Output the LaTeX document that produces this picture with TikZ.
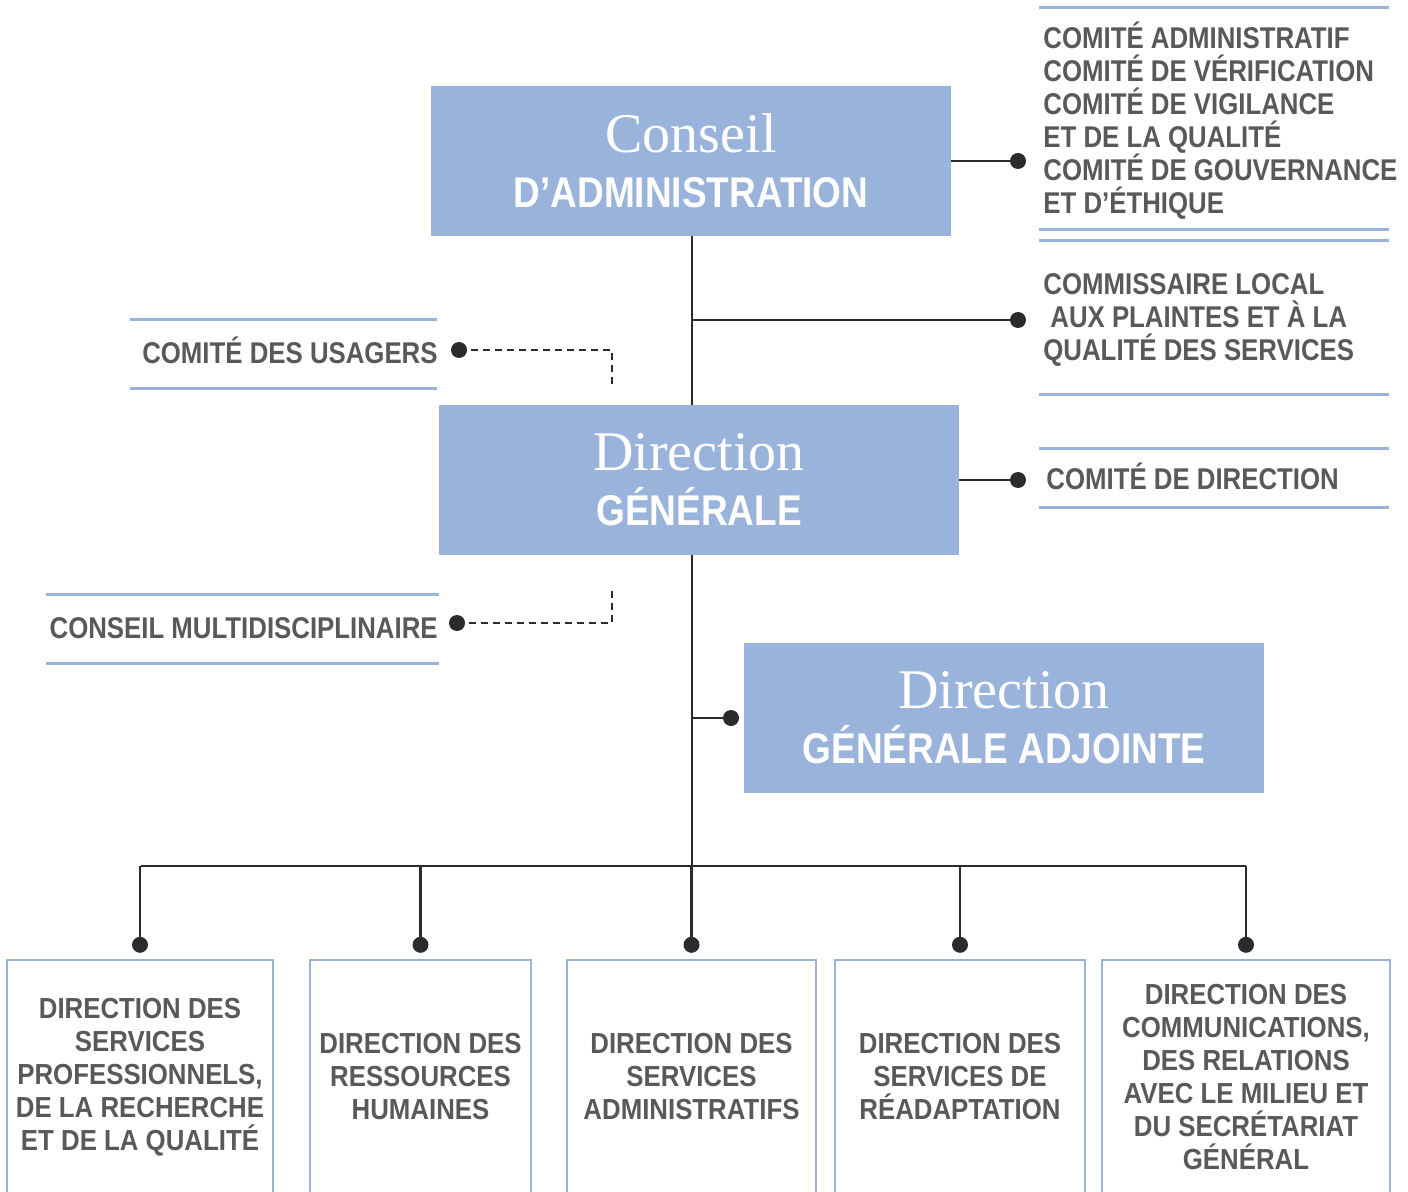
\documentclass[tikz,border=0pt]{standalone}
\usepackage{fontspec}
\setmainfont{Liberation Sans}
\newfontfamily\condfont{Liberation Sans}[FakeStretch=0.86]
\newfontfamily\unitfont{Liberation Sans}[FakeStretch=0.89]
\newfontfamily\headfont{Liberation Sans}[FakeStretch=0.86]
\newfontfamily\handfont{Liberation Serif}
\usetikzlibrary{positioning}

\definecolor{boxblue}{HTML}{9AB3DA}
\definecolor{txtgray}{HTML}{58595B}
\definecolor{linkgray}{HTML}{2B2B2B}

\newcommand{\hand}[1]{{\handfont\fontsize{28}{27.5}\selectfont #1}}
\newcommand{\headbf}[1]{{\headfont\bfseries\fontsize{21.5}{27.5}\selectfont #1}}

\tikzset{
  headbox/.style={fill=boxblue, text=white, minimum width=260pt, minimum height=75pt,
    inner sep=0pt, align=center, font=\fontsize{21.5}{27.5}\selectfont},
  unitbox/.style={draw=boxblue, line width=1.2pt, minimum height=117pt, inner sep=0pt,
    align=center, text=txtgray, font=\unitfont\bfseries\fontsize{14.5}{16.5}\selectfont},
  sidetext/.style={text=txtgray, inner sep=0pt, align=left,
    font=\condfont\bfseries\fontsize{15}{16.5}\selectfont},
  rule/.style={draw=boxblue, line width=1.5pt},
  link/.style={draw=linkgray, line width=1.2pt},
  dashlink/.style={draw=linkgray, line width=1pt, dash pattern=on 3.5pt off 2.5pt},
  dot/.style={fill=linkgray}
}

\begin{document}
\begin{tikzpicture}[x=0.5pt, y=-0.5pt]
  \useasboundingbox (0,0) rectangle (1408,1192);

  % Main boxes
  \node[headbox] (ca) at (691,161) {\hand{Conseil}\\\headbf{D’ADMINISTRATION}};
  \node[headbox] (dg) at (699,480) {\hand{Direction}\\\headbf{GÉNÉRALE}};
  \node[headbox] (dga) at (1004,718) {\hand{Direction}\\\headbf{GÉNÉRALE ADJOINTE}};

  % Side committees
  \node[sidetext, anchor=north west] (comites) at (1043,22)
    {COMITÉ ADMINISTRATIF\\COMITÉ DE VÉRIFICATION\\COMITÉ DE VIGILANCE\\ET DE LA QUALITÉ\\COMITÉ DE GOUVERNANCE\\ET D’ÉTHIQUE};
  \node[sidetext, anchor=north west] (plaintes) at (1043,273)
    {COMMISSAIRE LOCAL\\\hspace{3.5pt}AUX PLAINTES ET À LA\\QUALITÉ DES SERVICES};
  \node[sidetext, anchor=base west] (cdir) at (1046,489) {COMITÉ DE DIRECTION};
  \node[sidetext, anchor=base east] (usagers) at (438,364) {COMITÉ DES USAGERS};
  \node[sidetext, anchor=base east] (cmulti) at (438,638) {CONSEIL MULTIDISCIPLINAIRE};

  % Rules
  \draw[rule] (1039,8) -- (1389,8);
  \draw[rule] (1039,230) -- (1389,230);
  \draw[rule] (1039,241) -- (1389,241);
  \draw[rule] (1039,395) -- (1389,395);
  \draw[rule] (1039,449) -- (1389,449);
  \draw[rule] (1039,507) -- (1389,507);
  \draw[rule] (130,320) -- (437,320);
  \draw[rule] (130,389) -- (437,389);
  \draw[rule] (46,594) -- (439,594);
  \draw[rule] (46,663) -- (439,663);

  % Directions
  \node[unitbox, minimum width=133pt] (b1) at (140,1077)
    {DIRECTION DES\\SERVICES\\PROFESSIONNELS,\\DE LA RECHERCHE\\ET DE LA QUALITÉ};
  \node[unitbox, minimum width=110.5pt] (b2) at (420.5,1077)
    {DIRECTION DES\\RESSOURCES\\HUMAINES};
  \node[unitbox, minimum width=124.5pt] (b3) at (691.5,1077)
    {DIRECTION DES\\SERVICES\\ADMINISTRATIFS};
  \node[unitbox, minimum width=125pt] (b4) at (960,1077)
    {DIRECTION DES\\SERVICES DE\\RÉADAPTATION};
  \node[unitbox, minimum width=144pt] (b5) at (1246,1077)
    {DIRECTION DES\\COMMUNICATIONS,\\DES RELATIONS\\AVEC LE MILIEU ET\\DU SECRÉTARIAT\\GÉNÉRAL};

  % Dots
  \coordinate (dcom) at (1018,161);
  \coordinate (dpla) at (1018,320);
  \coordinate (ddir) at (1018,480);
  \coordinate (dusa) at (459,350);
  \coordinate (dmul) at (457,623);
  \coordinate (ddga) at (731,718);
  \coordinate (bus) at (692,866);

  % Connectors
  \draw[link] (ca.east) -- (dcom);
  \draw[link] (ca.south -| bus) -- (dg.north -| bus);
  \draw[link] (dg.south -| bus) -- (bus);
  \draw[link] (dpla -| bus) -- (dpla);
  \draw[link] (dg.east) -- (ddir);
  \draw[link] (ddga -| bus) -- (ddga);
  \draw[dashlink] (dusa) -| (612,385);
  \draw[dashlink] (dmul) -| (612,588);
  \draw[link] ([xshift=0.5pt]b1.north |- bus) -- (b5.north |- bus);
  \foreach \b in {b1,b2,b3,b4,b5}
    \draw[link] (\b.north |- bus) -- ([yshift=7pt]\b.north);

  \foreach \d in {dcom,dpla,ddir,dusa,dmul,ddga}
    \fill[dot] (\d) circle (4pt);
  \foreach \b in {b1,b2,b3,b4,b5}
    \fill[dot] ([yshift=7pt]\b.north) circle (4pt);
\end{tikzpicture}
\end{document}
